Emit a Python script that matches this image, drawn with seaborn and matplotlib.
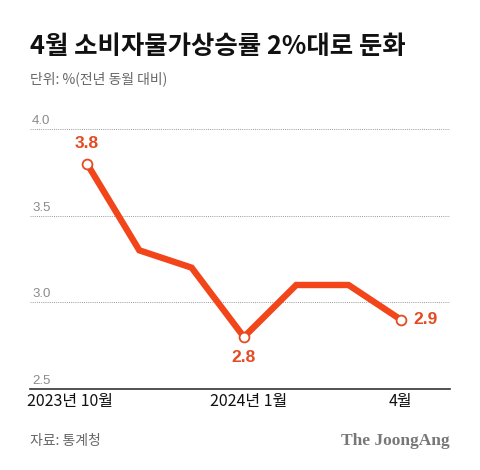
import matplotlib
matplotlib.use("Agg")
import matplotlib.pyplot as plt
import matplotlib.transforms as mtrans
import seaborn as sns
import pandas as pd

months = ["2023년 10월", "11월", "12월", "2024년 1월", "2월", "3월", "4월"]
values = [3.8, 3.3, 3.2, 2.8, 3.1, 3.1, 2.9]
tick_labels = ["2023년 10월", "", "", "2024년 1월", "", "", "4월"]
y_ticks = [2.5, 3.0, 3.5, 4.0]
highlight = [0, 3, 6]

sns.set_theme(style="white")
plt.rcParams['font.family'] = ['Noto Sans CJK KR', 'DejaVu Sans']

df = pd.DataFrame({"idx": range(len(values)), "month": months, "value": values})

W, H = 480, 470
fig = plt.figure(figsize=(4.8, 4.7), dpi=100)
ax = fig.add_axes([30 / W, (H - 389) / H, 420 / W, (389 - 129) / H])

line_c = "#F2451A"
lab_c = "#E54A22"

sns.lineplot(data=df, x="idx", y="value", ax=ax, color=line_c, linewidth=4.6,
             solid_joinstyle="miter", zorder=3)
hd = df.iloc[highlight]
ax.scatter(hd["idx"], hd["value"], s=50, facecolor="white", edgecolor=lab_c,
           linewidth=1.3, zorder=4)

ax.set_xlim(-1.09, 6.94)
ax.set_ylim(2.5, 4.0)
for yt in y_ticks[1:]:
    ax.axhline(yt, color="#9a9a9a", linestyle=(0, (1, 1.2)), linewidth=0.7, zorder=1)
for yt in y_ticks:
    ax.text(-1.05, yt + 0.012, f"{yt:.1f}", color="#8a8a8a", fontsize=9.5,
            ha="left", va="bottom", family=["Liberation Sans", "DejaVu Sans"])

for s in ["top", "right", "left"]:
    ax.spines[s].set_visible(False)
ax.spines["bottom"].set_color("#333333")
ax.spines["bottom"].set_linewidth(1.2)
ax.set_yticks([])
ax.set_xticks(range(len(values)))
ax.set_xticklabels(tick_labels, fontsize=11.5, color="#111111", fontweight="medium")
ax.tick_params(axis="x", direction="in", length=8, width=1, color="#333333", pad=3)
shifts = [-17, 0, 0, 5, 0, 0, 0]
for lab, sh in zip(ax.get_xticklabels(), shifts):
    if sh:
        lab.set_transform(lab.get_transform() +
                          mtrans.ScaledTranslation(sh / 100, 0, fig.dpi_scale_trans))
ax.set_xlabel("")
ax.set_ylabel("")

ax.annotate("3.8", (0, 3.8), xytext=(0, 9), textcoords="offset points", ha="center",
            va="bottom", color=lab_c, fontsize=12.5, fontweight="bold",
            family=["Liberation Sans", "DejaVu Sans"])
ax.annotate("2.8", (3, 2.8), xytext=(0, -9), textcoords="offset points", ha="center",
            va="top", color=lab_c, fontsize=12.5, fontweight="bold",
            family=["Liberation Sans", "DejaVu Sans"])
ax.annotate("2.9", (6, 2.9), xytext=(9, 0), textcoords="offset points", ha="left",
            va="center", color=lab_c, fontsize=12.5, fontweight="bold",
            family=["Liberation Sans", "DejaVu Sans"])

fig.text(30 / W, 1 - 46 / H, "4월 소비자물가상승률 2%대로 둔화", fontsize=18.3,
         fontweight="bold", color="#111111", ha="left", va="center")
fig.text(30 / W, 1 - 79 / H, "단위: %(전년 동월 대비)", fontsize=10,
         color="#666666", ha="left", va="center")
fig.text(30 / W, 1 - 441 / H, "자료: 통계청", fontsize=10, color="#666666",
         ha="left", va="center")
fig.text(450 / W, 1 - 441 / H, "The JoongAng", fontsize=12.5, fontweight="bold",
         color="#777777", ha="right", va="center",
         family=["Liberation Serif", "DejaVu Serif"])

fig.savefig("out.png", dpi=100, facecolor="white")
